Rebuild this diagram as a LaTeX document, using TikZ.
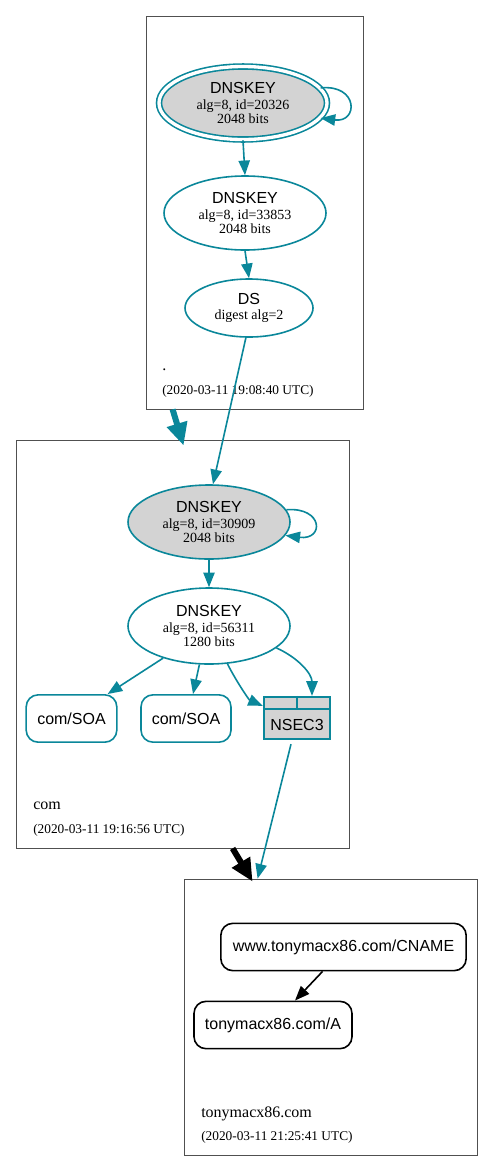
\documentclass[tikz,border=0pt]{standalone}
\usepackage{fontspec}
\setmainfont{Liberation Serif}
\setsansfont{Liberation Sans}
\usetikzlibrary{arrows.meta,shapes.geometric,calc}
\definecolor{secure}{HTML}{0A879A}
\definecolor{keyfill}{HTML}{D3D3D3}
\definecolor{zoneline}{HTML}{505050}
\newcommand{\ttl}[1]{{\sffamily\fontsize{12}{13}\selectfont #1}}

\begin{document}
\begin{tikzpicture}[
  x=0.75pt, y=-0.75pt,
  font=\fontsize{10.5}{10.5}\selectfont,
  zone/.style={draw=zoneline, line width=0.6pt, inner sep=0pt},
  key/.style={ellipse, draw=secure, line width=1.2pt, inner sep=0pt, align=center, minimum width=121.5pt, minimum height=55.5pt},
  sep/.style={key, fill=keyfill},
  ksk/.style={sep, double=white, double distance=2.5pt, minimum width=126pt, minimum height=54.75pt},
  rrset/.style={rectangle, rounded corners=9pt, draw=secure, line width=1.2pt, font=\sffamily\fontsize{12}{13}\selectfont, minimum height=35.5pt, inner sep=0pt},
  nsec/.style={rectangle, draw=secure, fill=keyfill, line width=1.7pt, minimum width=49.5pt, minimum height=31.5pt, inner sep=0pt},
  zonelbl/.style={anchor=base west, inner sep=0pt, font=\fontsize{12}{13}\selectfont},
  stamp/.style={anchor=base west, inner sep=0pt, font=\fontsize{10}{11}\selectfont},
  arr/.style={-{Triangle[length=11pt,width=8.5pt]}, draw=secure, line width=1.2pt},
  deleg/.style={-{Triangle[length=17pt,width=15pt]}, line width=4.5pt}
]
\useasboundingbox (0,0) rectangle (493,1172);

\node[zone, minimum width=162.75pt, minimum height=294.75pt] (c1) at (254.5,212.5) {};
\node[zone, minimum width=249.75pt, minimum height=306pt] (c2) at (182.5,644) {};
\node[zone, minimum width=219.75pt, minimum height=207pt] (c3) at (330.5,1017) {};

\node[ksk] (k1) at (243,103) {\ttl{DNSKEY}\\[1pt]alg=8, id=20326\\2048 bits};
\node[key] (k2) at (245,213) {\ttl{DNSKEY}\\[1pt]alg=8, id=33853\\2048 bits};
\node[key, minimum width=96pt, minimum height=43.5pt] (ds) at (249,308) {\ttl{DS}\\[1pt]digest alg=2};
\node[zonelbl] (c1name) at (162,370) {.};
\node[stamp] (c1time) at (162,394) {(2020-03-11 19:08:40 UTC)};

\node[sep] (k3) at (209,522) {\ttl{DNSKEY}\\[1pt]alg=8, id=30909\\2048 bits};
\node[key, minimum height=57pt] (k4) at (209,626) {\ttl{DNSKEY}\\[1pt]alg=8, id=56311\\1280 bits};
\node[rrset, minimum width=68pt] (soa1) at (71.5,718.5) {com/SOA};
\node[rrset, minimum width=67.5pt] (soa2) at (186,718.5) {com/SOA};
\node[nsec] (n3) at (297,718) {};
\node[font=\sffamily\fontsize{12}{13}\selectfont, inner sep=0pt] (n3lbl) at (297,725) {NSEC3};
\draw[draw=secure, line width=1.7pt] ($(n3.north west)+(0,13)$) -- ($(n3.north east)+(0,13)$);
\draw[draw=secure, line width=1.7pt] (n3.north) -- ($(n3.north)+(0,13)$);
\node[zonelbl] (c2name) at (33,809) {com};
\node[stamp] (c2time) at (33,833) {(2020-03-11 19:16:56 UTC)};

\node[rrset, draw=black, minimum width=184pt] (cname) at (343.5,947) {www.tonymacx86.com/CNAME};
\node[rrset, draw=black, minimum width=118.5pt] (arec) at (273,1025) {tonymacx86.com/A};
\node[zonelbl] (c3name) at (201,1117) {tonymacx86.com};
\node[stamp] (c3time) at (201,1140) {(2020-03-11 21:25:41 UTC)};

\draw[arr] (k1.11) .. controls +(38,-4) and +(38,5) .. (k1.-11);
\draw[arr] (k1.south) -- (k2.north);
\draw[arr] (k2.south) -- (ds.north);
\draw[arr] (ds.-96) -- (k3.84);
\draw[arr] (k3.9) .. controls +(37,-3) and +(39,5) .. (k3.-10);
\draw[arr] (k3.south) -- (k4.north);
\draw[arr] (k4.-145) -- ($(soa1.north east)+(-10,0)$);
\draw[arr] (k4.-104) -- ($(soa2.north)+(7,0)$);
\draw[arr] (k4.-64) .. controls +(8,16) and +(-14,-6) .. ($(n3.north west)+(0,10)$);
\draw[arr] (k4.-18) .. controls +(22,10) and +(0,-22) .. ($(n3.north)+(15,0)$);
\draw[arr] ($(n3.south)+(-6,4)$) -- ($(c3.north west)+(74,0)$);
\draw[arr, draw=black] ($(cname.south)+(-21,0)$) -- ($(arec.north)+(22,0)$);
\draw[deleg, draw=secure] ($(c1.south west)+(27,0)$) -- ($(c2.north west)+(168,6)$);
\draw[deleg, draw=black] ($(c2.south west)+(217,0)$) -- ($(c3.north west)+(69,3)$);
\end{tikzpicture}
\end{document}
